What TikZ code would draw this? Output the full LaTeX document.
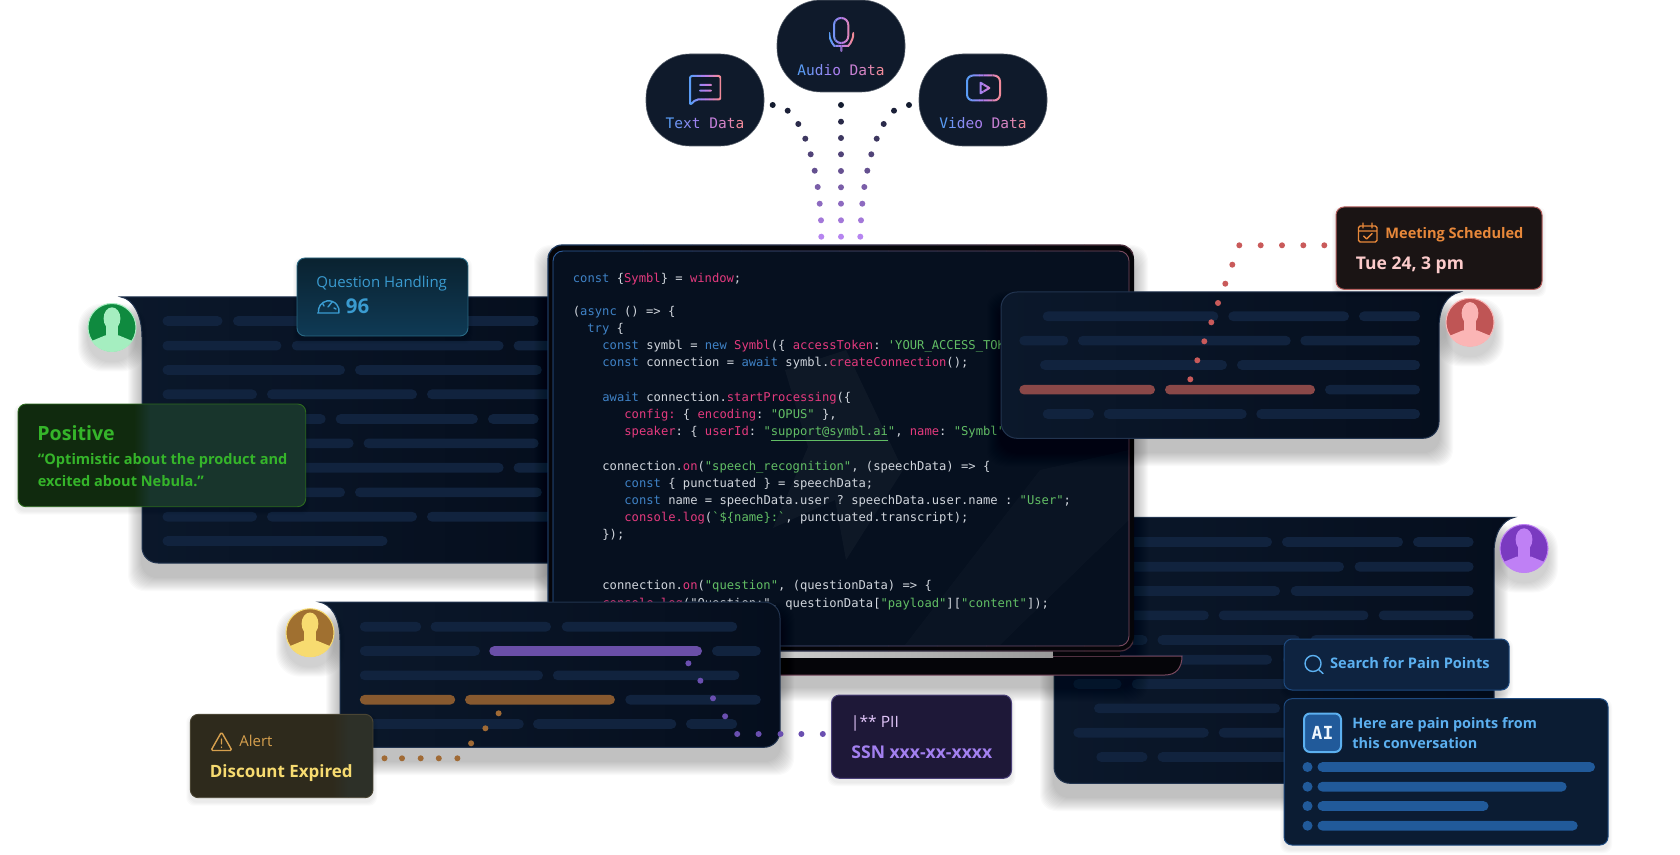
\documentclass[tikz,border=0pt]{standalone}
\usepackage{fontspec}
\setmainfont{Open Sans}
\setmonofont{DejaVu Sans Mono}
\usetikzlibrary{arrows.meta, calc}

\definecolor{gradblue}{HTML}{5A9CF5}
\definecolor{gradpurple}{HTML}{B67CF0}
\definecolor{gradsalmon}{HTML}{F08A9A}
\definecolor{bubblefill}{HTML}{0F1A2B}
\definecolor{dotdark}{HTML}{141C30}
\definecolor{dotlight}{HTML}{B886F2}
\definecolor{panela}{HTML}{0B182B}
\definecolor{panelb}{HTML}{050E1D}
\definecolor{panelline}{HTML}{22344F}
\definecolor{barblue}{HTML}{11233E}
\definecolor{screenfill}{HTML}{06101F}
\definecolor{framefill}{HTML}{050509}
\definecolor{framepink}{HTML}{7A4A60}
\definecolor{frameblue}{HTML}{2E5F9E}
\definecolor{codeplain}{HTML}{D0D5DC}
\definecolor{codeblue}{HTML}{3F82C6}
\definecolor{codepink}{HTML}{E43A7E}
\definecolor{codegreen}{HTML}{62BE65}
\definecolor{redbar}{HTML}{8A4848}
\definecolor{reddot}{HTML}{C95A5A}
\definecolor{purplebar}{HTML}{6A4FA8}
\definecolor{purpledot}{HTML}{6A4FB0}
\definecolor{orangebar}{HTML}{87592F}
\definecolor{orangedot}{HTML}{A06A35}
\definecolor{aibar}{HTML}{215A9A}
\definecolor{skytext}{HTML}{5CB0F0}
\definecolor{facegreen}{HTML}{0F8A3F}
\definecolor{facemint}{HTML}{A5EEC0}
\definecolor{faceviolet}{HTML}{7A3AC0}
\definecolor{facelilac}{HTML}{BF80F5}
\definecolor{faceblush}{HTML}{FBB5B5}
\definecolor{facebronze}{HTML}{A07030}
\definecolor{facebutter}{HTML}{F7DB70}
\definecolor{cardteal}{HTML}{0A2230}
\definecolor{cardsea}{HTML}{0F3A55}
\definecolor{cardtealline}{HTML}{2A6A85}
\definecolor{cardsky}{HTML}{3A9BD0}
\definecolor{cardmoss}{HTML}{102A0E}
\definecolor{cardpine}{HTML}{18352C}
\definecolor{cardmossline}{HTML}{2C6A1E}
\definecolor{cardleaf}{HTML}{35B52A}
\definecolor{cardcocoa}{HTML}{1A1414}
\definecolor{cardcocoaline}{HTML}{B5605F}
\definecolor{cardamber}{HTML}{E8883A}
\definecolor{cardolive}{HTML}{2E2A1C}
\definecolor{cardslate}{HTML}{2D3028}
\definecolor{cardoliveline}{HTML}{4A4534}
\definecolor{cardochre}{HTML}{D6A04E}
\definecolor{cardplum}{HTML}{1E1838}
\definecolor{cardplumline}{HTML}{4A3F78}
\definecolor{cardiris}{HTML}{A380F0}
\definecolor{cardnavy}{HTML}{0E2340}
\definecolor{cardnavyline}{HTML}{1E4A80}

\newcommand\fs[1]{\fontsize{#1}{#1}\selectfont}
\newcommand\kw[1]{\textcolor{codeblue}{#1}}
\newcommand\pk[1]{\textcolor{codepink}{#1}}
\newcommand\st[1]{\textcolor{codegreen}{#1}}
\newcommand\mixcolor[1]{%
  \ifnum#1<50 \pgfmathtruncatemacro\mixp{2*#1}\colorlet{gradmix}{gradpurple!\mixp!gradblue}%
  \else \pgfmathtruncatemacro\mixp{2*#1-100}\colorlet{gradmix}{gradsalmon!\mixp!gradpurple}\fi}
\newcommand\gradtext[2]{\foreach \ch [count=\ci] in {#2}{%
  \pgfmathtruncatemacro\gp{100*(\ci-1)/(#1-1)}\mixcolor{\gp}\textcolor{gradmix}{\ch}}}
\newcommand\gradstroke[3]{\foreach \sl in {0,...,7}{%
  \pgfmathtruncatemacro\gp{\sl*100/7}\mixcolor{\gp}%
  \begin{scope}
    \clip ({#1+(#2-#1)*\sl/8},0) rectangle ({#1+(#2-#1)*(\sl+1)/8+.2},200);
    \draw[gradmix, line width=1pt, line join=round, line cap=round] #3;
  \end{scope}}}
\newcommand\softshadow[6]{\foreach \s in {1,...,\numexpr2*#6\relax}{%
  \fill[black, opacity=.02, rounded corners=#5] (#1-\s,#2+2*#6-\s) rectangle (#3+\s,#4+2*#6+\s);}}
\newcommand\pbar[4][barblue]{\fill[#1, rounded corners=2.4pt] (#2,#4-4.8) rectangle (#3,#4+4.8);}
\newcommand\dotline[3]{\foreach \dx/\dy in {#3}{\fill[#1] (\dx,\dy) circle[radius=#2];}}
\newcommand\avatar[5]{%
  \softshadow{#2-24}{#3-24}{#2+24}{#3+24}{12pt}{5}
  \node[avatarface, fill=#4] (#1) at (#2,#3) {};
  \begin{scope}[shift={(#2,#3)}]
    \clip (0,0) circle[radius=12pt];
    \fill[#5] (0,-9) ellipse[x radius=4.2pt, y radius=5.6pt];
    \fill[#5] (-6,-4) rectangle (6,10);
    \fill[#5] (-24,15) -- (-7,8) -- (7,8) -- (24,15) -- (24,26) -- (-24,26) -- cycle;
  \end{scope}
  \draw[#5, line width=.5pt] (#1.center) circle[radius=12pt];}
\newcommand\glasscard[8]{%
  \softshadow{#1}{#2}{#3}{#4}{4pt}{2}
  \begin{scope}
    \clip[rounded corners=4pt] (#1,#2) rectangle (#3,#4);
    \fill[#5] (#1,#2) rectangle (#7-8,#4);
    \shade[left color=#5, right color=#6] (#7-8,#2) rectangle (#7+8,#4);
    \fill[#6] (#7+8,#2) rectangle (#3,#4);
  \end{scope}
  \draw[#8, line width=.45pt, rounded corners=4pt] (#1,#2) rectangle (#3,#4);}

\tikzset{
  bubble/.style={fill=bubblefill, draw=bubblefill!70!white, line width=.3pt, rounded corners=22pt},
  bubbletext/.style={inner sep=0pt, font=\fs{7.25}\ttfamily},
  panel/.style={left color=panela, right color=panelb, draw=panelline, line width=.5pt},
  codeline/.style={anchor=base west, inner sep=0pt, text=codeplain, font=\fs{6.08}\ttfamily},
  cardtext/.style={anchor=base west, inner sep=0pt},
  avatarface/.style={circle, inner sep=0pt, minimum size=24pt},
  iconline/.style={line width=.7pt, line join=round, line cap=round}
}

\begin{document}
\begin{tikzpicture}[x=.5pt, y=-.5pt]
  \useasboundingbox (0,0) rectangle (1680,855);

  % source bubbles
  \draw[bubble] (777,0) rectangle (905,92);
  \draw[bubble] (646,54) rectangle (764,146);
  \draw[bubble] (919,54) rectangle (1047,146);
  \node[bubbletext] (audioLabel) at (841,70) {\gradtext{10}{A,u,d,i,o,~,D,a,t,a}};
  \node[bubbletext] (textLabel) at (705,123.5) {\gradtext{9}{T,e,x,t,~,D,a,t,a}};
  \node[bubbletext] (videoLabel) at (983,123.5) {\gradtext{10}{V,i,d,e,o,~,D,a,t,a}};
  \gradstroke{829}{854}{[rounded corners=3.5pt] (834,18) rectangle (848.3,43) (829.3,33) .. controls (829.3,42) and (835,46) .. (841.3,46) .. controls (847.6,46) and (853.3,42) .. (853.3,33) (841.3,46) -- (841.3,51)}
  \gradstroke{689}{721}{[rounded corners=1pt] (690,105) -- (690,76) -- (720.5,76) -- (720.5,99.5) -- (696,99.5) -- cycle (700,85) -- (711,85) (700,90.7) -- (711,90.7)}
  \gradstroke{966}{1001}{[rounded corners=3pt] (967,75.5) rectangle (1000,100.5) [sharp corners] (980.5,82.7) -- (989.3,88) -- (980.5,93.3) -- cycle}

  \foreach \lx/\ly in {772.7/105, 787.7/110.7, 798.3/124, 805.3/138.7, 810.7/154.3, 814.7/170.7, 817.7/187, 819.7/203.7, 821/220.3, 821.3/236.7,
      841/105, 841/121.7, 841/138, 841/154.3, 841/171, 841/187.3, 841/203.7, 841/220.3, 841/236.7,
      909/105, 894/110.7, 883.7/124, 876.7/138.7, 871.3/154.3, 867.3/170.7, 864.3/187, 862.3/203.7, 861/220.3, 860.3/236.7}{
    \pgfmathtruncatemacro\dp{(\ly-105)/1.317}
    \fill[dotlight!\dp!dotdark] (\lx,\ly) circle[radius=1.5pt];
  }

  % left conversation panel
  \softshadow{142}{297}{552}{563}{8pt}{7}
  \path[panel] (121,297) -- (552,297) -- (552,563) -- (158,563) .. controls (149,563) and (142,556) .. (142,547) -- (142,337) .. controls (142,315) and (133,299) .. (121,297) -- cycle;
  \foreach \y/\a/\b in {321/162.5/222.5, 321/233/368, 321/378/538.6,
      345.7/162.5/281.4, 345.7/291.8/503.6, 345.7/513.6/552,
      370/162.5/345, 370/355/541.8,
      394.3/162.5/257, 394.3/267/417, 394.3/427/552,
      419/162.5/325.7, 419/335.7/477.9, 419/488/538.6,
      443.3/162.5/353.6, 443.3/363.6/538.6,
      467.7/162.5/281.4, 467.7/291.8/503.6, 467.7/513.6/552,
      492.3/162.5/345, 492.3/355/541.8,
      516.7/162.5/257, 516.7/267/417, 516.7/427/552,
      541/162.5/387.5}{\pbar{\a}{\b}{\y}}
  \avatar{avatarGreen}{112}{327.5}{facegreen}{facemint}

  % right conversation panel
  \softshadow{1054}{517}{1494}{783}{8pt}{7}
  \path[panel] (1514.6,517.3) -- (1054,517.3) -- (1054,767) .. controls (1054,776) and (1061,783.3) .. (1070,783.3) -- (1494,783.3) -- (1494,553) .. controls (1494,532) and (1503,520) .. (1514.6,517.3) -- cycle;
  \foreach \y/\a/\b in {542/1100/1272, 542/1282/1403, 542/1413/1473.6,
      566.7/1100/1344, 566.7/1354.6/1473.6,
      591/1100/1280, 591/1290.7/1473.6,
      615.3/1100/1208.8, 615.3/1218.7/1368.4, 615.3/1378.7/1473.6,
      640/1100/1147.5, 640/1157.5/1300, 640/1310.6/1473.6,
      659.7/1100/1272, 659.7/1283/1400,
      684/1073.3/1121.5, 684/1131.8/1350,
      708.3/1094/1280, 708.3/1290/1400,
      732.7/1073.3/1208.8, 732.7/1218.7/1400,
      757/1096.3/1147.5, 757/1157.5/1350}{\pbar{\a}{\b}{\y}}
  \avatar{avatarPurple}{1524}{548.5}{faceviolet}{facelilac}

  % laptop
  \softshadow{548}{245}{1134}{673}{8pt}{7}
  \fill[framefill, rounded corners=1pt] (500,656) -- (1182,656) .. controls (1182,668) and (1176,675) .. (1165,675) -- (500,675) -- cycle;
  \draw[framepink, line width=.5pt] (500,656) -- (1182,656) .. controls (1182,668) and (1176,675) .. (1165,675) -- (500,675);
  \shade[left color=gray!40, right color=gray!80] (779,651) rectangle (1053,657);
  \fill[framefill] (1053,651) rectangle (1120,656);
  \fill[framefill, rounded corners=7pt] (548,245) rectangle (1134,651);
  \fill[screenfill, rounded corners=5pt] (553,251) rectangle (1129,646);
  \foreach \f in {0,...,11}{
    \pgfmathtruncatemacro\fp{\f*100/11}
    \begin{scope}
      \clip ({545+\f*49},240) rectangle ({594.2+\f*49},660);
      \draw[framepink!\fp!frameblue, line width=.45pt, rounded corners=5pt] (553,251) rectangle (1129,646);
      \draw[framepink!\fp!frameblue!60!black, line width=.6pt, rounded corners=7pt] (548,245) rectangle (1134,651);
    \end{scope}
  }
  \fill[white, opacity=.035] (785,370) -- (846,350) -- (903,470) -- (846,560) -- (835,500) -- (773,528) -- (808,447) -- cycle;
  \fill[white, opacity=.018] (905,645) -- (1040,470) -- (1129,450) -- (1129,520) -- (1000,645) -- cycle;

  \node[codeline] (code00) at (572.5,283) {\kw{const} \{\pk{Symbl}\} = \pk{window};};
  \node[codeline] (code02) at (572.5,316) {(\kw{async} () => \{};
  \node[codeline] (code03) at (587,333) {\kw{try} \{};
  \node[codeline] (code04) at (602,350) {\kw{const} symbl = \kw{new} \pk{Symbl}(\{ \pk{accessToken}: \st{'YOUR\_ACCESS\_TOK}};
  \node[codeline] (code05) at (602,367) {\kw{const} connection = \kw{await} symbl.\pk{createConnection}();};
  \node[codeline] (code07) at (602,401) {\kw{await} connection.\pk{startProcessing}(\{};
  \node[codeline] (code08) at (624,418) {\pk{config:} \{ \pk{encoding}: \st{"OPUS"} \},};
  \node[codeline] (code09) at (624,435) {\pk{speaker}: \{ \pk{userId}: \st{"\underline{support@symbl.ai}"}, \pk{name}: \st{"Symbl"}};
  \node[codeline] (code11) at (602,470) {connection.\pk{on}(\st{"speech\_recognition"}, (speechData) => \{};
  \node[codeline] (code12) at (624,487) {\kw{const} \{ punctuated \} = speechData;};
  \node[codeline] (code13) at (624,504) {\kw{const} name = speechData.user ? speechData.user.name : \st{"User"};};
  \node[codeline] (code14) at (624,521) {\pk{console.log}(\st{`\$\{name\}:`}, punctuated.transcript);};
  \node[codeline] (code15) at (602,538) {\});};
  \node[codeline] (code18) at (602,589) {connection.\pk{on}(\st{"question"}, (questionData) => \{};
  \node[codeline] (code19) at (602,607) {\pk{console.log}("Question:", questionData[\st{"payload"}][\st{"content"}]);};

  % left cards
  \softshadow{297}{258}{468}{336}{4pt}{2}
  \draw[top color=cardteal, bottom color=cardsea, draw=cardtealline, line width=.45pt, rounded corners=4pt] (297,258) rectangle (468,336);
  \node[cardtext, text=cardsky, font=\fs{7.5}] (handlingTitle) at (316,288) {Question Handling};
  \node[cardtext, text=cardsky, font=\fs{10.2}\bfseries] (handlingScore) at (345.5,314) {96};
  \draw[cardsky, iconline] (317.5,313) -- (338.5,313) (318.5,313) arc[start angle=190, end angle=-10, radius=5.2pt] (328,307) -- (332,302) (323,304) -- (324,306) (334,308) -- (336,309);

  \glasscard{18}{404}{305.7}{506.7}{cardmoss}{cardpine}{142}{cardmossline}
  \node[cardtext, text=cardleaf, font=\fs{9.8}\bfseries] (positiveTitle) at (37,440) {Positive};
  \node[cardtext, text=cardleaf, font=\fs{7.28}\bfseries] (positiveLineA) at (37.5,464) {“Optimistic about the product and};
  \node[cardtext, text=cardleaf, font=\fs{7.28}\bfseries] (positiveLineB) at (37.5,486) {excited about Nebula.”};

  % top right panel
  \softshadow{1001}{292}{1439}{438}{8pt}{7}
  \path[panel] (1460,292) -- (1017,292) .. controls (1008,292) and (1001,299) .. (1001,308) -- (1001,422) .. controls (1001,431) and (1008,438.3) .. (1017,438.3) -- (1423,438.3) .. controls (1432,438.3) and (1439,431) .. (1439,422) -- (1439,328) .. controls (1439,307) and (1447,295) .. (1460,292) -- cycle;
  \foreach \y/\a/\b in {316.3/1042.7/1218.3, 316.3/1228.3/1349, 316.3/1359/1420,
      340.7/1019.3/1068.3, 340.7/1078/1290.7, 340.7/1300.3/1420,
      365/1040/1227, 365/1237/1420,
      389.7/1325/1420,
      414/1042.7/1094, 414/1103.7/1246.7, 414/1256.3/1420}{\pbar{\a}{\b}{\y}}
  \pbar[redbar]{1019.3}{1155}{389.7}
  \pbar[redbar]{1165}{1315}{389.7}
  \avatar{avatarRed}{1470}{322.3}{reddot!95!black}{faceblush}

  \softshadow{1336}{207}{1542}{289}{4pt}{2}
  \draw[fill=cardcocoa, draw=cardcocoaline, line width=.5pt, rounded corners=4pt] (1336,207) rectangle (1542,289.3);
  \node[cardtext, text=cardamber, font=\fs{7.28}\bfseries] (meetingTitle) at (1385,239) {Meeting Scheduled};
  \node[cardtext, text=faceblush!70!white, font=\fs{8.75}\bfseries] (meetingTime) at (1355.5,270) {Tue 24, 3 pm};
  \draw[cardamber, iconline, rounded corners=.8pt] (1358.5,226) rectangle (1377,242) (1358.5,231) -- (1377,231);
  \draw[cardamber, iconline] (1363,223) -- (1363,228) (1372,223) -- (1372,228) (1363.5,236) -- (1366.5,239) -- (1372,233.5);
  \dotline{reddot}{1.5pt}{1324.3/245.3, 1303.3/245.3, 1282/245.3, 1260.7/245.3, 1239.3/245.3, 1232.3/264.7, 1225.3/283.7, 1218/303, 1211.3/322.3, 1204.3/341.3, 1197.3/360.3, 1190.3/379.3}

  % bottom left panel
  \softshadow{340}{602}{780}{747}{8pt}{7}
  \path[panel] (319,602) -- (764,602) .. controls (773,602) and (780,609) .. (780,618) -- (780,731) .. controls (780,740) and (773,747.3) .. (764,747.3) -- (340,747.3) -- (340,640) .. controls (340,617) and (331,604) .. (319,602) -- cycle;
  \foreach \y/\a/\b in {626.7/359.8/421.2, 626.7/430.6/551, 626.7/561.7/737.2,
      651/359.8/480, 651/712/760.8,
      675.3/359.8/543, 675.3/552.9/739.4,
      699.7/625.3/760.8,
      724/359.8/523.8, 724/533/676.3, 724/686/737.2}{\pbar{\a}{\b}{\y}}
  \pbar[purplebar]{489.3}{702}{651}
  \pbar[orangebar]{359.8}{455.2}{699.7}
  \pbar[orangebar]{465}{614.9}{699.7}
  \avatar{avatarGold}{310}{632.7}{facebronze}{facebutter}
  \dotline{orangedot}{1.5pt}{498.6/713.3, 485.4/728.3, 471.1/743.3, 457.4/758.3, 438.8/758.3, 420.7/758.3, 402/758.3, 384.5/758.3}
  \dotline{purpledot}{1.5pt}{688.4/663.3, 700.4/680.7, 713/698.3, 725.1/716.3, 737.2/734, 758.6/734, 780.5/734, 801.4/734, 822.8/734}

  \glasscard{190.3}{714.3}{373}{797.7}{cardolive}{cardslate}{340}{cardoliveline}
  \node[cardtext, text=cardochre, font=\fs{7.5}] (alertTitle) at (239,746.5) {Alert};
  \node[cardtext, text=facebutter, font=\fs{8.48}\bfseries] (alertText) at (209.5,777) {Discount Expired};
  \draw[cardochre, iconline, rounded corners=.8pt] (221.5,732) -- (232,750.5) -- (211,750.5) -- cycle (221.5,739) -- (221.5,744) (221.5,747) -- (221.5,747.3);

  \softshadow{831.5}{695}{1011.5}{778}{4pt}{2}
  \draw[fill=cardplum, draw=cardplumline, line width=.5pt, rounded corners=4pt] (831.5,695) rectangle (1011.5,778.3);
  \node[cardtext, text=facelilac!45!white, font=\fs{7.8}] (piiTitle) at (850.5,727) {|** PII};
  \node[cardtext, text=cardiris, font=\fs{8.78}\bfseries] (piiValue) at (851,758) {SSN xxx-xx-xxxx};

  % right cards
  \softshadow{1284}{639}{1509}{690}{4pt}{2}
  \draw[fill=cardnavy, draw=cardnavyline, line width=.5pt, rounded corners=4pt] (1284,639) rectangle (1509.2,690);
  \node[cardtext, text=skytext, font=\fs{7.3}\bfseries] (searchLabel) at (1329.7,668) {Search for Pain Points};
  \draw[skytext, iconline] (1313,663.5) circle[radius=4pt] (1318.5,669.5) -- (1323,673.5);

  \softshadow{1284}{699}{1608}{845}{4pt}{2}
  \draw[fill=cardnavy!80!black, draw=cardnavyline, line width=.5pt, rounded corners=4pt] (1284,698.7) rectangle (1608,845);
  \draw[fill=aibar, draw=skytext, line width=1pt, rounded corners=3pt] (1304,713.5) rectangle (1341,752);
  \node[inner sep=0pt, text=white!90!skytext, font=\fs{9}\ttfamily\bfseries] (aiBadge) at (1322.5,733) {AI};
  \node[cardtext, text=skytext, font=\fs{7.2}\bfseries] (aiLineA) at (1352,728) {Here are pain points from};
  \node[cardtext, text=skytext, font=\fs{7.2}\bfseries] (aiLineB) at (1352,748.5) {this conversation};
  \foreach \y/\b in {767/1595, 786.7/1566.6, 806/1488.5, 825.7/1577.7}{
    \fill[aibar] (1307.5,\y) circle[radius=2.5pt];
    \pbar[aibar]{1317.5}{\b}{\y}
  }
\end{tikzpicture}
\end{document}
